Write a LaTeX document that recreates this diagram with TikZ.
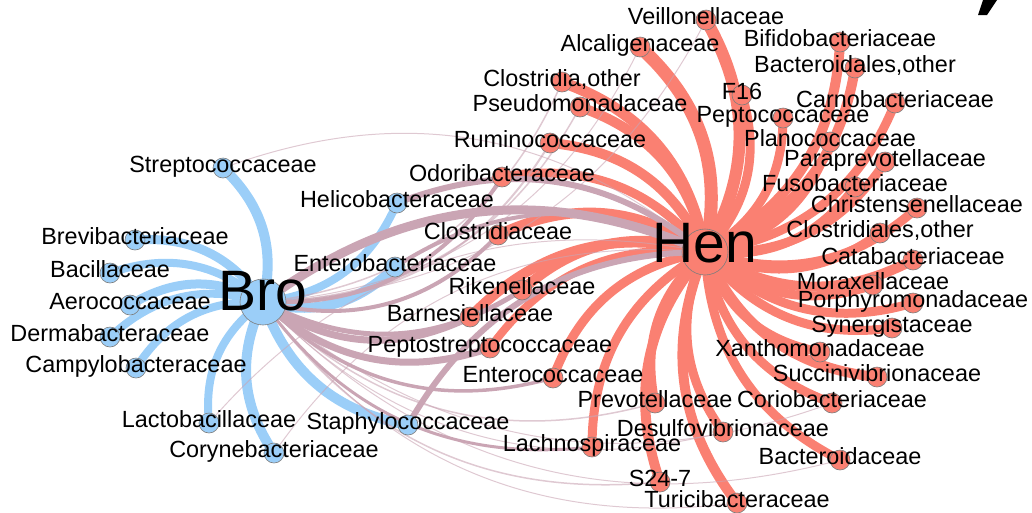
\documentclass[tikz,border=0pt]{standalone}
\usepackage{fontspec}
\setmainfont{Liberation Sans}
\usepackage{xcolor}
\usepackage{tikz}
\usetikzlibrary{backgrounds}

\definecolor{broblue}{RGB}{155,206,248}
\definecolor{henred}{RGB}{250,128,114}
\definecolor{mixmauve}{RGB}{202,165,180}
\definecolor{rimgray}{RGB}{125,125,125}

\tikzset{
    taxon/.style={circle, draw=rimgray, line width=0.6pt, minimum size=20pt, inner sep=0pt},
    brotaxon/.style={taxon, fill=broblue},
    hentaxon/.style={taxon, fill=henred},
    hub/.style={circle, draw=rimgray, line width=0.6pt, minimum size=46pt, inner sep=0pt},
    taxlabel/.style={anchor=base, inner sep=0pt, yshift=-4pt, font=\fontsize{23.4}{28}\selectfont},
    hublabel/.style={anchor=base, inner sep=0pt, font=\fontsize{57}{64}\selectfont},
    link/.style={bend right=30},
    broedge/.style={link, draw=broblue},
    henedge/.style={link, draw=henred},
    mixedge/.style={link, draw=mixmauve},
    faintmix/.style={link, draw=mixmauve, draw opacity=0.6, line width=1pt},
}

\begin{document}
\begin{tikzpicture}[x=1pt, y=-1pt]
        \useasboundingbox (0,0) rectangle (1032,512);

        % Hubs
        \node[hub, fill=broblue] (bro) at (263,302) {};
        \node[hub, fill=henred] (hen) at (705,252) {};

        % Bro side
        \node[brotaxon] (strep) at (223,168) {};
        \node[brotaxon] (brevi) at (135,240) {};
        \node[brotaxon] (bacil) at (110,273) {};
        \node[brotaxon] (aero) at (130,305) {};
        \node[brotaxon] (derma) at (110,337) {};
        \node[brotaxon] (campy) at (136,368) {};
        \node[brotaxon] (lacto) at (209,423) {};
        \node[brotaxon] (coryne) at (274,453) {};
        \node[brotaxon] (helico) at (397,203) {};
        \node[brotaxon] (enterob) at (395,267) {};
        \node[brotaxon] (staph) at (408,425) {};

        % Hen side
        \node[hentaxon] (veill) at (706,20) {};
        \node[hentaxon] (alcal) at (640,47) {};
        \node[hentaxon] (clothr) at (562,82) {};
        \node[hentaxon] (pseudo) at (580,107) {};
        \node[hentaxon] (rumino) at (550,143) {};
        \node[hentaxon] (odori) at (502,177) {};
        \node[hentaxon] (clostr) at (498,235) {};
        \node[hentaxon] (riken) at (522,290) {};
        \node[hentaxon] (barnes) at (470,317) {};
        \node[hentaxon] (pepstr) at (490,348) {};
        \node[hentaxon] (enteroc) at (553,378) {};
        \node[hentaxon] (prevo) at (655,403) {};
        \node[hentaxon] (desulf) at (723,432) {};
        \node[hentaxon] (lachno) at (592,447) {};
        \node[hentaxon] (s247) at (660,482) {};
        \node[hentaxon] (turici) at (737,503) {};
        \node[hentaxon] (bactdc) at (840,460) {};
        \node[hentaxon] (corio) at (832,403) {};
        \node[hentaxon] (succin) at (877,377) {};
        \node[hentaxon] (xantho) at (820,352) {};
        \node[hentaxon] (synerg) at (892,328) {};
        \node[hentaxon] (porph) at (913,303) {};
        \node[hentaxon] (morax) at (873,285) {};
        \node[hentaxon] (catab) at (913,260) {};
        \node[hentaxon] (closoth) at (880,233) {};
        \node[hentaxon] (christ) at (917,208) {};
        \node[hentaxon] (fuso) at (855,187) {};
        \node[hentaxon] (paraprev) at (885,162) {};
        \node[hentaxon] (planoc) at (830,142) {};
        \node[hentaxon] (peptoc) at (783,118) {};
        \node[hentaxon] (carno) at (895,103) {};
        \node[hentaxon] (f16) at (742,95) {};
        \node[hentaxon] (bactoth) at (855,68) {};
        \node[hentaxon] (bifido) at (840,42) {};

        \begin{scope}[on background layer]
        % Hen links
        \draw[henedge, line width=12pt] (hen.center) to (veill.center);
        \draw[henedge, line width=13pt] (hen.center) to (alcal.center);
        \draw[henedge, line width=11pt] (hen.center) to (clothr.center);
        \draw[henedge, line width=10pt] (hen.center) to (pseudo.center);
        \draw[henedge, line width=10pt] (hen.center) to (rumino.center);
        \draw[henedge, line width=9pt] (hen.center) to (odori.center);
        \draw[henedge, line width=10pt] (hen.center) to (clostr.center);
        \draw[henedge, line width=10pt] (hen.center) to (riken.center);
        \draw[henedge, line width=10pt] (hen.center) to (barnes.center);
        \draw[henedge, line width=8pt] (hen.center) to (pepstr.center);
        \draw[henedge, line width=9pt] (hen.center) to (enteroc.center);
        \draw[henedge, line width=9pt] (hen.center) to (prevo.center);
        \draw[henedge, line width=9pt] (hen.center) to (desulf.center);
        \draw[henedge, line width=9pt] (hen.center) to (lachno.center);
        \draw[henedge, line width=10pt] (hen.center) to (s247.center);
        \draw[henedge, line width=10pt] (hen.center) to (turici.center);
        \draw[henedge, line width=9pt] (hen.center) to (bactdc.center);
        \draw[henedge, line width=9pt] (hen.center) to (corio.center);
        \draw[henedge, line width=10pt] (hen.center) to (succin.center);
        \draw[henedge, line width=9pt] (hen.center) to (xantho.center);
        \draw[henedge, line width=9pt] (hen.center) to (synerg.center);
        \draw[henedge, line width=9pt] (hen.center) to (porph.center);
        \draw[henedge, line width=9pt] (hen.center) to (morax.center);
        \draw[henedge, line width=10pt] (hen.center) to (catab.center);
        \draw[henedge, line width=9pt] (hen.center) to (closoth.center);
        \draw[henedge, line width=9pt] (hen.center) to (christ.center);
        \draw[henedge, line width=9pt] (hen.center) to (fuso.center);
        \draw[henedge, line width=9pt] (hen.center) to (paraprev.center);
        \draw[henedge, line width=8pt] (hen.center) to (planoc.center);
        \draw[henedge, line width=9pt] (hen.center) to (peptoc.center);
        \draw[henedge, line width=9pt] (hen.center) to (carno.center);
        \draw[henedge, line width=9pt] (hen.center) to (f16.center);
        \draw[henedge, line width=10pt] (hen.center) to (bactoth.center);
        \draw[henedge, line width=10pt] (hen.center) to (bifido.center);

        % Bro links
        \draw[broedge, line width=10pt] (bro.center) to (strep.center);
        \draw[broedge, line width=9pt] (bro.center) to (brevi.center);
        \draw[broedge, line width=8pt] (bro.center) to (bacil.center);
        \draw[broedge, line width=9pt] (bro.center) to (aero.center);
        \draw[broedge, line width=8pt] (bro.center) to (derma.center);
        \draw[broedge, line width=8pt] (bro.center) to (campy.center);
        \draw[broedge, line width=8pt] (bro.center) to (lacto.center);
        \draw[broedge, line width=10pt] (bro.center) to (coryne.center);
        \draw[broedge, line width=8pt] (bro.center) to (helico.center);
        \draw[broedge, line width=10pt] (bro.center) to (enterob.center);
        \draw[broedge, line width=10pt] (bro.center) to (staph.center);

        % shared links
        \draw[faintmix] (hen.center) to (strep.center);
        \draw[faintmix] (hen.center) to (lacto.center);
        \draw[faintmix] (hen.center) to (coryne.center);
        \draw[faintmix] (bro.center) to (veill.center);
        \draw[faintmix] (bro.center) to (alcal.center);
        \draw[faintmix, line width=1.5pt] (bro.center) to (clothr.center);
        \draw[faintmix, line width=1.5pt] (bro.center) to (pseudo.center);
        \draw[faintmix, line width=2pt] (bro.center) to (rumino.center);
        \draw[faintmix, line width=1.5pt] (bro.center) to (prevo.center);
        \draw[faintmix] (bro.center) to (desulf.center);
        \draw[faintmix, line width=1.5pt] (bro.center) to (s247.center);
        \draw[faintmix] (bro.center) to (turici.center);
        \draw[faintmix] (bro.center) to (bactdc.center);
        \draw[faintmix] (bro.center) to (corio.center);
        \draw[mixedge, line width=3pt] (bro.center) to (lachno.center);
        \draw[mixedge, line width=3.5pt] (bro.center) to (enteroc.center);
        \draw[mixedge, line width=4pt] (bro.center) to (odori.center);
        \draw[mixedge, line width=4pt] (bro.center) to (clostr.center);
        \draw[mixedge, line width=5pt] (bro.center) to (riken.center);
        \draw[mixedge, line width=7pt] (bro.center) to (barnes.center);
        \draw[mixedge, line width=7pt] (bro.center) to (pepstr.center);
        \draw[mixedge, line width=4pt] (hen.center) to (enterob.center);
        \draw[mixedge, line width=6pt] (hen.center) to (helico.center);
        \draw[mixedge, line width=6pt] (hen.center) to (staph.center);
        \draw[mixedge, line width=9pt] (hen.center) to (bro.center);
        \end{scope}

        % Labels
        \node[hublabel, yshift=-8pt] (bro-t) at (bro) {Bro};
        \node[hublabel, yshift=-10pt] (hen-t) at (hen) {Hen};
        \node[taxlabel] (strep-t) at (strep) {Streptococcaceae};
        \node[taxlabel] (brevi-t) at (brevi) {Brevibacteriaceae};
        \node[taxlabel] (bacil-t) at (bacil) {Bacillaceae};
        \node[taxlabel] (aero-t) at (aero) {Aerococcaceae};
        \node[taxlabel] (derma-t) at (derma) {Dermabacteraceae};
        \node[taxlabel] (campy-t) at (campy) {Campylobacteraceae};
        \node[taxlabel] (lacto-t) at (lacto) {Lactobacillaceae};
        \node[taxlabel] (coryne-t) at (coryne) {Corynebacteriaceae};
        \node[taxlabel] (helico-t) at (helico) {Helicobacteraceae};
        \node[taxlabel] (enterob-t) at (enterob) {Enterobacteriaceae};
        \node[taxlabel] (staph-t) at (staph) {Staphylococcaceae};
        \node[taxlabel] (veill-t) at (veill) {Veillonellaceae};
        \node[taxlabel] (alcal-t) at (alcal) {Alcaligenaceae};
        \node[taxlabel] (clothr-t) at (clothr) {Clostridia,other};
        \node[taxlabel] (pseudo-t) at (pseudo) {Pseudomonadaceae};
        \node[taxlabel] (rumino-t) at (rumino) {Ruminococcaceae};
        \node[taxlabel] (odori-t) at (odori) {Odoribacteraceae};
        \node[taxlabel] (clostr-t) at (clostr) {Clostridiaceae};
        \node[taxlabel] (riken-t) at (riken) {Rikenellaceae};
        \node[taxlabel] (barnes-t) at (barnes) {Barnesiellaceae};
        \node[taxlabel] (pepstr-t) at (pepstr) {Peptostreptococcaceae};
        \node[taxlabel] (enteroc-t) at (enteroc) {Enterococcaceae};
        \node[taxlabel] (prevo-t) at (prevo) {Prevotellaceae};
        \node[taxlabel] (desulf-t) at (desulf) {Desulfovibrionaceae};
        \node[taxlabel] (lachno-t) at (lachno) {Lachnospiraceae};
        \node[taxlabel] (s247-t) at (s247) {S24-7};
        \node[taxlabel] (turici-t) at (turici) {Turicibacteraceae};
        \node[taxlabel] (bactdc-t) at (bactdc) {Bacteroidaceae};
        \node[taxlabel] (corio-t) at (corio) {Coriobacteriaceae};
        \node[taxlabel] (succin-t) at (succin) {Succinivibrionaceae};
        \node[taxlabel] (xantho-t) at (xantho) {Xanthomonadaceae};
        \node[taxlabel] (synerg-t) at (synerg) {Synergistaceae};
        \node[taxlabel] (porph-t) at (porph) {Porphyromonadaceae};
        \node[taxlabel] (morax-t) at (morax) {Moraxellaceae};
        \node[taxlabel] (catab-t) at (catab) {Catabacteriaceae};
        \node[taxlabel] (closoth-t) at (closoth) {Clostridiales,other};
        \node[taxlabel] (christ-t) at (christ) {Christensenellaceae};
        \node[taxlabel] (fuso-t) at (fuso) {Fusobacteriaceae};
        \node[taxlabel] (paraprev-t) at (paraprev) {Paraprevotellaceae};
        \node[taxlabel] (planoc-t) at (planoc) {Planococcaceae};
        \node[taxlabel] (peptoc-t) at (peptoc) {Peptococcaceae};
        \node[taxlabel] (carno-t) at (carno) {Carnobacteriaceae};
        \node[taxlabel] (f16-t) at (f16) {F16};
        \node[taxlabel] (bactoth-t) at (bactoth) {Bacteroidales,other};
        \node[taxlabel] (bifido-t) at (bifido) {Bifidobacteriaceae};

        % cut-off mark, top right
        \fill[black] (983,0) -- (997,0) -- (987,15) -- (978,15) -- cycle;
    \end{tikzpicture}
\end{document}
